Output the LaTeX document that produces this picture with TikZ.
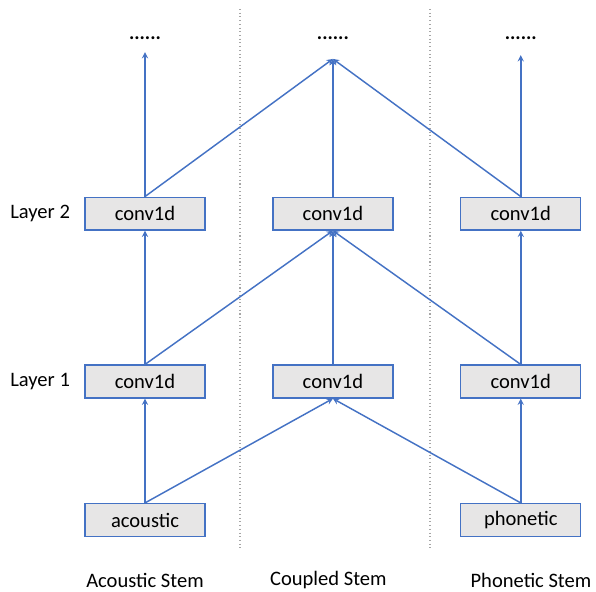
\documentclass[tikz,border=0pt]{standalone}
\usepackage{fontspec}
\setmainfont{Carlito}
\usetikzlibrary{arrows}
\definecolor{lineblue}{HTML}{4472C4}
\definecolor{boxgray}{HTML}{E7E6E6}

\begin{document}
\begin{tikzpicture}[x=0.0265cm, y=0.0265cm, node distance=4.98cm]
    \tikzstyle{block} = [rectangle, minimum width=3.18cm, minimum height=0.87cm, text centered, draw=lineblue, line width=1pt, fill=boxgray, font=\fontsize{15.5}{18}\selectfont]
    \tikzstyle{stemtext} = [font=\fontsize{15.5}{18}\selectfont]
    \tikzstyle{outdots} = [font=\bfseries\fontsize{15}{18}\selectfont]
    \tikzstyle{arrow} = [line width=1.1pt, draw=lineblue, ->, >=stealth]
    \tikzstyle{divider} = [dotted, gray!70, line width=0.8pt]

    \useasboundingbox (0,0) rectangle (596,592);

    \node (acoustic) [block] at (145,72) {acoustic};
    \node (phonetic) [block, right of=acoustic, xshift=4.98cm] {phonetic};
    \node (acl1) [block, above of=acoustic, yshift=-1.31cm] {conv1d};
    \node (cpl1) [block, right of=acl1] {conv1d};
    \node (phl1) [block, right of=cpl1] {conv1d};
    \node (acl2) [block, above of=acl1, yshift=-0.53cm] {conv1d};
    \node (cpl2) [block, right of=acl2] {conv1d};
    \node (phl2) [block, right of=cpl2] {conv1d};
    \node (acout) [outdots, above of=acl2, yshift=-0.33cm] {......};
    \node (cpout) [outdots, right of=acout] {......};
    \node (phout) [outdots, right of=cpout] {......};
    \coordinate (acin) at ([yshift=-0.37cm]acout.center);
    \coordinate (cpin) at ([yshift=-0.55cm]cpout.center);
    \coordinate (phin) at ([yshift=-0.45cm]phout.center);

    \node (layer1) [stemtext, left of=acl1, xshift=2.2cm] {Layer 1};
    \node (layer2) [stemtext, left of=acl2, xshift=2.2cm] {Layer 2};
    \node (acstem) [stemtext, below of=acoustic, yshift=3.39cm] {Acoustic Stem};
    \node (cpstem) [stemtext, right of=acstem, xshift=-0.12cm] {Coupled Stem};
    \node (phstem) [stemtext, below of=phonetic, yshift=3.39cm, xshift=0.27cm] {Phonetic Stem};

    % stem separators
    \draw [divider] (240,583) -- (240,44);
    \draw [divider] (430,583) -- (430,44);

    \draw [arrow] (acoustic.north) -- (acl1.south);
    \draw [arrow] (acoustic.north) -- (cpl1.south);
    \draw [arrow] (phonetic.north) -- (cpl1.south);
    \draw [arrow] (phonetic.north) -- (phl1.south);
    \draw [arrow] (acl1.north) -- (acl2.south);
    \draw [arrow] (acl1.north) -- (cpl2.south);
    \draw [arrow] (cpl1.north) -- (cpl2.south);
    \draw [arrow] (phl1.north) -- (cpl2.south);
    \draw [arrow] (phl1.north) -- (phl2.south);
    \draw [arrow] (acl2.north) -- (acin);
    \draw [arrow] (acl2.north) -- (cpin);
    \draw [arrow] (cpl2.north) -- (cpin);
    \draw [arrow] (phl2.north) -- (cpin);
    \draw [arrow] (phl2.north) -- (phin);
\end{tikzpicture}
\end{document}
